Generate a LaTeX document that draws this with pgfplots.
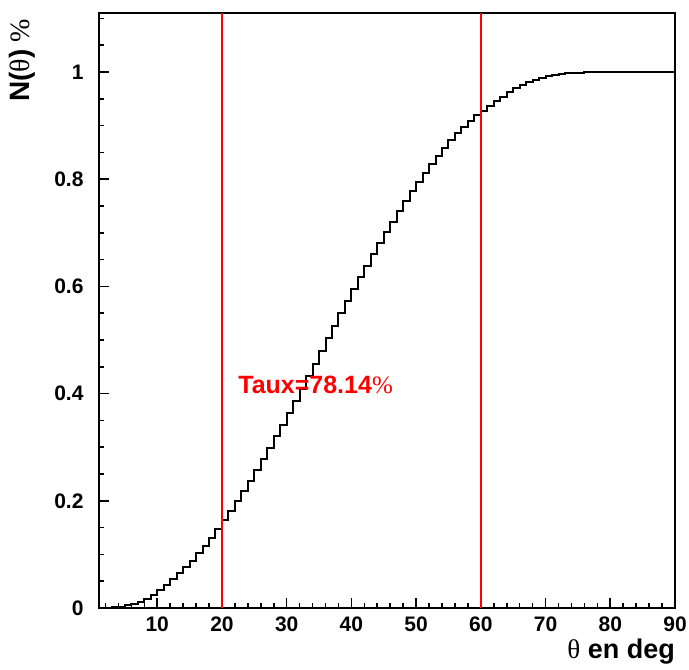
\documentclass[border=0pt]{standalone}
\usepackage{fontspec}
\setmainfont{Liberation Sans}
\newfontfamily\symfont{Liberation Serif}
\usepackage{pgfplots}
\pgfplotsset{compat=1.18}
\begin{document}
\begin{tikzpicture}
\begin{axis}[
  scale only axis,
  width=576pt, height=595pt,
  xmin=1, xmax=90, ymin=0, ymax=1.11,
  axis line style={line width=1.6pt},
  xtick={10,20,...,90},
  minor xtick={2,4,...,88},
  ytick={0,0.2,0.4,0.6,0.8,1},
  yticklabels={0,0.2,0.4,0.6,0.8,1},
  minor ytick={0.05,0.1,...,1.1},
  tick align=inside,
  xtick pos=bottom, ytick pos=left,
  major tick length=10pt, minor tick length=5pt,
  every tick/.style={line width=1.6pt, black},
  /pgf/number format/assume math mode=true,
  ticklabel style={font=\fontsize{21}{24}\selectfont\bfseries},
  xticklabel style={yshift=-5pt},
  yticklabel style={xshift=-12pt},
  xlabel={{\symfont\mdseries θ} en deg},
  ylabel={N({\symfont\mdseries θ})\hspace{0.25em}{\symfont\mdseries\%}},
  every axis x label/.style={at={(axis description cs:1,-0.052)}, anchor=north east, inner sep=0pt, font=\fontsize{27}{30}\selectfont\bfseries},
  every axis y label/.style={at={(axis description cs:-0.12,0.99)}, rotate=90, anchor=base east, inner sep=0pt, font=\fontsize{28}{32}\selectfont\bfseries},
  clip=false,
]
\addplot[const plot, black, line width=2pt] coordinates {
(1,0.0003) (2,0.0008) (3,0.0015) (4,0.0028) (5,0.0048) (6,0.0078) (7,0.0118) (8,0.0175) (9,0.0250) (10,0.0335)
(11,0.0430) (12,0.0535) (13,0.0645) (14,0.0760) (15,0.0885) (16,0.1020) (17,0.1165) (18,0.1315) (19,0.1470) (20,0.1635)
(21,0.1810) (22,0.1990) (23,0.2180) (24,0.2375) (25,0.2575) (26,0.2780) (27,0.2990) (28,0.3200) (29,0.3415) (30,0.3635)
(31,0.3860) (32,0.4090) (33,0.4325) (34,0.4560) (35,0.4795) (36,0.5030) (37,0.5265) (38,0.5495) (39,0.5725) (40,0.5950)
(41,0.6170) (42,0.6385) (43,0.6595) (44,0.6803) (45,0.7008) (46,0.7209) (47,0.7405) (48,0.7595) (49,0.7778) (50,0.7953)
(51,0.8119) (52,0.8285) (53,0.8441) (54,0.8587) (55,0.8724) (56,0.8852) (57,0.8972) (58,0.9084) (59,0.9189) (60,0.9277)
(61,0.9369) (62,0.9457) (63,0.9541) (64,0.9620) (65,0.9692) (66,0.9756) (67,0.9811) (68,0.9857) (69,0.9894) (70,0.9923)
(71,0.9945) (72,0.9961) (73,0.9972) (74,0.9980) (75,0.9986) (76,0.9991) (77,0.9995) (78,0.9998) (79,1.0) (80,1.0)
(81,1.0) (82,1.0) (83,1.0) (84,1.0) (85,1.0) (86,1.0) (87,1.0) (88,1.0) (89,1.0) (90,1.0)
};
\addplot[red, line width=2pt] coordinates {(20,0) (20,1.11)};
\addplot[red, line width=2pt] coordinates {(60,0) (60,1.11)};
\node[anchor=base west, inner sep=0pt, text=red, font=\fontsize{25}{28}\selectfont\bfseries] at (axis cs:22.5,0.4) {Taux=78.14{\symfont\mdseries\%}};
\coordinate (sw) at (rel axis cs:0,0);
\coordinate (ne) at (rel axis cs:1,1);
\end{axis}
\pgfresetboundingbox
\path[use as bounding box] ([shift={(-99pt,-61pt)}]sw) rectangle ([shift={(14pt,13pt)}]ne);
\end{tikzpicture}
\end{document}
